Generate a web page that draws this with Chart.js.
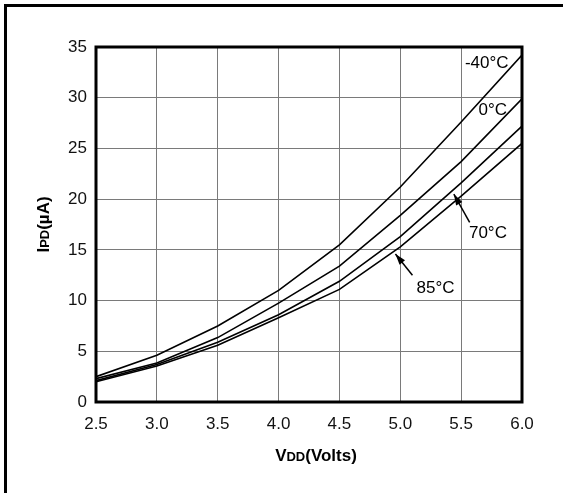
<!DOCTYPE html>
<html>
<head>
<meta charset="utf-8">
<script src="https://cdn.jsdelivr.net/npm/chart.js@4.4.1/dist/chart.umd.min.js"></script>
<style>
  html, body { margin: 0; padding: 0; background: #fff; }
  #wrap { width: 563px; height: 493px; position: relative; }
</style>
</head>
<body>
<div id="wrap"><canvas id="chart" width="563" height="493"></canvas></div>
<script>
// Tensão de alimentação (V) e corrente de power-down (µA) por temperatura
const vdd = [2.5, 3.0, 3.5, 4.0, 4.5, 5.0, 5.5, 6.0];
const ipdM40 = [2.5, 4.6, 7.5, 11.0, 15.5, 21.2, 27.6, 34.2];
const ipd0 = [2.3, 3.85, 6.35, 9.75, 13.4, 18.4, 23.7, 29.9];
const ipd70 = [2.1, 3.7, 5.9, 8.6, 11.9, 16.3, 21.6, 27.2];
const ipd85 = [2.0, 3.55, 5.6, 8.3, 11.1, 15.3, 20.3, 25.5];
const yTicks = [0, 5, 10, 15, 20, 25, 30, 35];
const xTicks = [2.5, 3.0, 3.5, 4.0, 4.5, 5.0, 5.5, 6.0];

// Rótulos das curvas (em coordenadas do gráfico)
const curveLabels = [
    { text: '-40°C', x: 5.71, y: 33.4 },
    { text: '0°C', x: 5.76, y: 28.8 },
    { text: '70°C', x: 5.72, y: 16.6, from: [5.57, 17.7], to: [5.44, 20.5] },
    { text: '85°C', x: 5.29, y: 11.2, from: [5.10, 12.5], to: [4.96, 14.6] }
];

const FONT = '"Liberation Sans", Arial, sans-serif';

function toPoints(values) {
    return vdd.map((v, i) => ({ x: v, y: values[i] }));
}

function line(label, values) {
    return {
        label: label,
        data: toPoints(values),
        borderColor: '#000',
        borderWidth: 1.6,
        pointRadius: 0,
        tension: 0,
        fill: false
    };
}

// Texto com parte em tamanho menor (ex.: V + DD + (Volts))
function drawMixed(ctx, parts, cx, cy) {
    let total = 0;
    parts.forEach(p => {
        ctx.font = 'bold ' + p.size + 'px ' + FONT;
        p.w = ctx.measureText(p.t).width;
        total += p.w;
    });
    let x = cx - total / 2;
    ctx.textAlign = 'left';
    ctx.textBaseline = 'alphabetic';
    parts.forEach(p => {
        ctx.font = 'bold ' + p.size + 'px ' + FONT;
        ctx.fillText(p.t, x, cy);
        x += p.w;
    });
}

const decorPlugin = {
    id: 'decor',
    afterDraw(chart) {
        const ctx = chart.ctx;
        const a = chart.chartArea;
        const xs = chart.scales.x, ys = chart.scales.y;
        ctx.save();

        // moldura externa (só esquerda e topo aparecem)
        ctx.fillStyle = '#000';
        ctx.fillRect(4, 4, 559, 3);
        ctx.fillRect(4, 4, 3, 489);

        // borda grossa da área do gráfico
        ctx.strokeStyle = '#000';
        ctx.lineWidth = 3;
        ctx.strokeRect(a.left, a.top, a.right - a.left, a.bottom - a.top);

        // rótulos das curvas e setas
        ctx.fillStyle = '#000';
        ctx.font = '17px ' + FONT;
        ctx.textAlign = 'center';
        ctx.textBaseline = 'middle';
        curveLabels.forEach(l => {
            ctx.fillText(l.text, xs.getPixelForValue(l.x), ys.getPixelForValue(l.y));
            if (l.from) {
                const x1 = xs.getPixelForValue(l.from[0]), y1 = ys.getPixelForValue(l.from[1]);
                const x2 = xs.getPixelForValue(l.to[0]), y2 = ys.getPixelForValue(l.to[1]);
                const ang = Math.atan2(y2 - y1, x2 - x1);
                ctx.lineWidth = 1.5;
                ctx.beginPath();
                ctx.moveTo(x1, y1);
                ctx.lineTo(x2, y2);
                ctx.stroke();
                ctx.beginPath();
                ctx.moveTo(x2, y2);
                ctx.lineTo(x2 - 11 * Math.cos(ang) + 3.5 * Math.sin(ang), y2 - 11 * Math.sin(ang) - 3.5 * Math.cos(ang));
                ctx.lineTo(x2 - 11 * Math.cos(ang) - 3.5 * Math.sin(ang), y2 - 11 * Math.sin(ang) + 3.5 * Math.cos(ang));
                ctx.closePath();
                ctx.fill();
            }
        });

        // títulos dos eixos
        drawMixed(ctx, [
            { t: 'V', size: 17 }, { t: 'DD', size: 13 }, { t: '(Volts)', size: 17 }
        ], (a.left + a.right) / 2 + 7, 461);

        ctx.save();
        ctx.translate(49, (a.top + a.bottom) / 2);
        ctx.rotate(-Math.PI / 2);
        drawMixed(ctx, [
            { t: 'I', size: 17 }, { t: 'PD', size: 13 }, { t: '(µA)', size: 17 }
        ], 0, 0);
        ctx.restore();

        ctx.restore();
    }
};

new Chart(document.getElementById('chart').getContext('2d'), {
    type: 'line',
    data: {
        datasets: [
            line('-40°C', ipdM40),
            line('0°C', ipd0),
            line('70°C', ipd70),
            line('85°C', ipd85)
        ]
    },
    options: {
        responsive: false,
        animation: false,
        layout: { padding: { top: 47, right: 41, left: 0, bottom: 0 } },
        plugins: {
            legend: { display: false },
            tooltip: { enabled: false }
        },
        scales: {
            x: {
                type: 'linear',
                min: 2.5,
                max: 6.0,
                afterFit: scale => { scale.height = 91; },
                afterBuildTicks: scale => { scale.ticks = xTicks.map(v => ({ value: v })); },
                ticks: {
                    padding: 12,
                    color: '#111',
                    font: { family: FONT, size: 17 },
                    callback: v => Number(v).toFixed(1)
                },
                grid: { color: '#7a7a7a', lineWidth: 1, drawTicks: false },
                border: { display: false }
            },
            y: {
                min: 0,
                max: 35,
                afterFit: scale => { scale.width = 96; },
                afterBuildTicks: scale => { scale.ticks = yTicks.map(v => ({ value: v })); },
                ticks: {
                    padding: 9,
                    color: '#111',
                    font: { family: FONT, size: 17 }
                },
                grid: { color: '#7a7a7a', lineWidth: 1, drawTicks: false },
                border: { display: false }
            }
        }
    },
    plugins: [decorPlugin]
});
</script>
</body>
</html>
